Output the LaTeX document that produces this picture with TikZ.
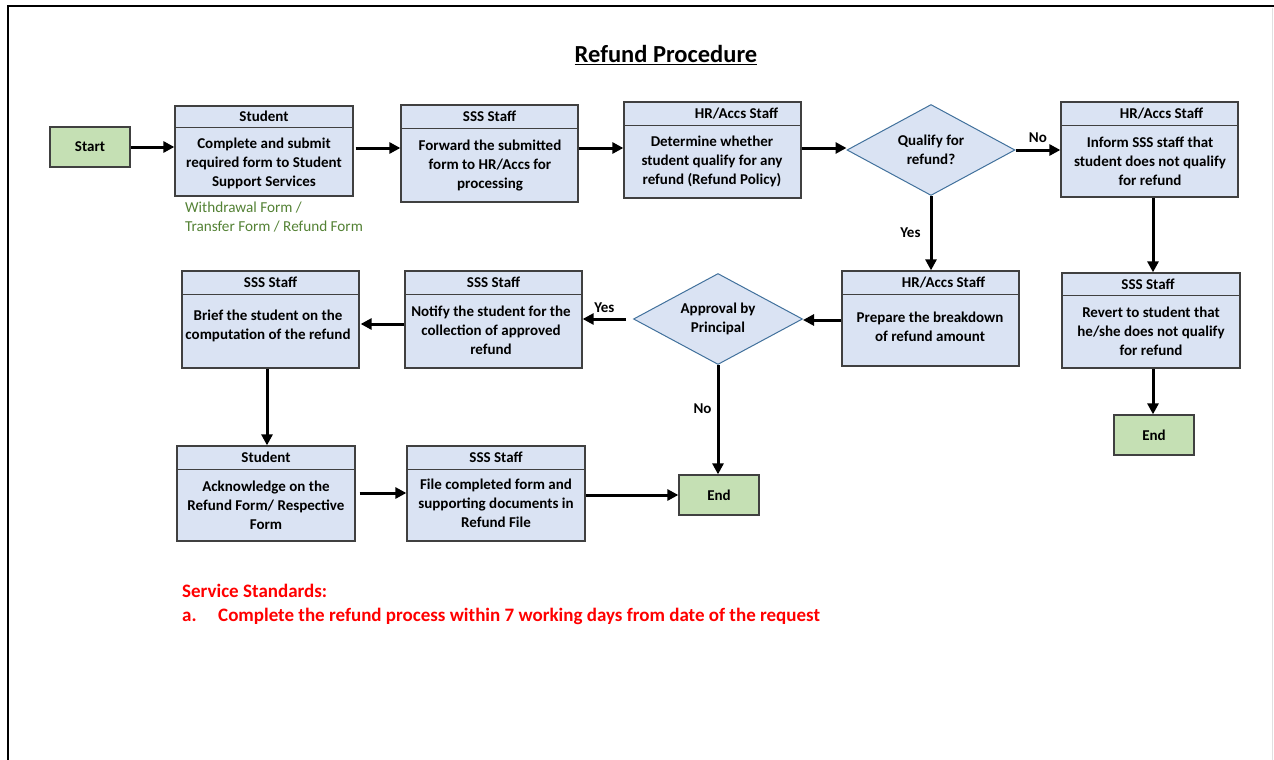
\documentclass[tikz,border=0pt]{standalone}
\usepackage{fontspec}
\setmainfont{Carlito}
\usetikzlibrary{arrows.meta,shapes.geometric,calc}

\definecolor{boxfill}{HTML}{DAE3F3}
\definecolor{boxline}{HTML}{404040}
\definecolor{termfill}{HTML}{C5E0B4}
\definecolor{diamline}{HTML}{41719C}
\definecolor{notegreen}{HTML}{548235}
\definecolor{stdred}{HTML}{FF0000}

\tikzset{
  x=1pt, y=-1pt,
  stepbox/.style={draw=boxline, line width=1.3pt, fill=boxfill, inner sep=0pt},
  termbox/.style={draw=boxline, line width=1.3pt, fill=termfill, inner sep=0pt,
    font=\bfseries\fontsize{15}{18}\selectfont},
  decision/.style={diamond, aspect=1.85, draw=diamline, line width=1pt, fill=boxfill, inner sep=0pt,
    align=center, font=\bfseries\fontsize{15}{19}\selectfont},
  headtext/.style={font=\bfseries\fontsize{15}{18}\selectfont, inner sep=0pt},
  bodytext/.style={font=\bfseries\fontsize{15}{19}\selectfont, align=center, inner sep=0pt, anchor=north},
  flow/.style={line width=3pt, -{Triangle[length=11pt,width=11pt]}},
  flowlabel/.style={font=\bfseries\fontsize{15}{18}\selectfont, inner sep=0pt},
  stdtextstyle/.style={font=\bfseries\fontsize{19}{24}\selectfont, text=stdred, anchor=base west, inner sep=0pt},
}

% process box with a header strip:
% #1 name, #2 x1, #3 y1, #4 x2, #5 y2, #6 header line y, #7 header xshift, #8 header
\newcommand{\procbox}[8]{%
  \node[stepbox, minimum width={#4-#2}, minimum height={#5-#3}] (#1) at ({(#2+#4)/2},{(#3+#5)/2}) {};
  \draw[boxline, line width=1pt] (#1.west |- 0,#6) -- (#1.east |- 0,#6);
  \node[headtext] (#1-head) at ({(#2+#4)/2+#7},{(#3+#6)/2}) {#8};
}

\begin{document}
\begin{tikzpicture}
\useasboundingbox (0,0) rectangle (1274,760);
\fill[white] (0,0) rectangle (1274,760);

% page frame
\draw[line width=2pt] (8,760) -- (8,6) -- (1274,6);
\draw[line width=0.6pt, black!12] (1272,8) -- (1272,760);

% title
\node[font=\bfseries\fontsize{24.5}{28}\selectfont, inner sep=0pt] (title) at (666,55) {\underline{Refund Procedure}};

% ---- process boxes ----
\procbox{student}{175}{106}{353}{196}{127}{0}{Student}
\node[bodytext] (student-body) at (264,138) {Complete and submit\\required form to Student\\Support Services};

\procbox{forward}{401}{105}{578}{202}{128}{0}{SSS Staff}
\node[bodytext] (forward-body) at (490,140) {Forward the submitted\\form to HR/Accs for\\processing};

\procbox{determine}{624}{102}{801}{198}{125}{24}{HR/Accs Staff}
\node[bodytext] (determine-body) at (712,136) {Determine whether\\student qualify for any\\refund (Refund Policy)};

\procbox{inform}{1061}{102}{1238}{197}{125}{12}{HR/Accs Staff}
\node[bodytext] (inform-body) at (1150,137) {Inform SSS staff that\\student does not qualify\\for refund};

\procbox{prepare}{842}{271}{1019}{366}{294}{13}{HR/Accs Staff}
\node[bodytext] (prepare-body) at (930,312) {Prepare the breakdown\\of refund amount};

\procbox{revert}{1062}{273}{1240}{368}{295}{-3}{SSS Staff}
\node[bodytext] (revert-body) at (1151,307) {Revert to student that\\he/she does not qualify\\for refund};

\procbox{notify}{405}{271}{582}{368}{294}{0}{SSS Staff}
\node[bodytext] (notify-body) at (491,306) {Notify the student for the\\collection of approved\\refund};

\procbox{brief}{182}{271}{359}{368}{294}{0}{SSS Staff}
\node[bodytext] (brief-body) at (268,310) {Brief the student on the\\computation of the refund};

\procbox{ack}{177}{446}{355}{541}{469}{0}{Student}
\node[bodytext] (ack-body) at (266,481) {Acknowledge on the\\Refund Form/ Respective\\Form};

\procbox{filing}{407}{446}{585}{541}{469}{0}{SSS Staff}
\node[bodytext] (filing-body) at (496,479) {File completed form and\\supporting documents in\\Refund File};

% terminals
\node[termbox, minimum width=80, minimum height=40] (start) at (90,147) {Start};
\node[termbox, minimum width=80, minimum height=40] (endright) at (1154,435) {End};
\node[termbox, minimum width=80, minimum height=40] (endmain) at (719,495) {End};

% decisions
\node[decision, minimum width=168, minimum height=91] (qualify) at (931,150) {Qualify for\\refund?};
\node[decision, minimum width=169, minimum height=91] (approval) at (718,319) {Approval by\\Principal};

% note under the first step
\node[font=\fontsize{15.2}{19}\selectfont, text=notegreen, align=left, anchor=north west, inner sep=0pt]
  (forms) at (185,202) {Withdrawal Form /\\Transfer Form / Refund Form};

% service standards
\node[stdtextstyle] (stdhead) at (182,597) {Service Standards:};
\node[stdtextstyle] (stditem) at (182,621) {a.};
\node[stdtextstyle] (stdtext) at (218,621) {Complete the refund process within 7 working days from date of the request};

% ---- connectors ----
\draw[flow] (start.east) -- (student.west |- start.east);
\draw[flow] ($(student.east |- 0,148)+(2,0)$) -- (forward.west |- 0,148);
\draw[flow] (forward.east |- 0,148) -- (determine.west |- 0,148);
\draw[flow] (determine.east |- 0,148) -- (qualify.west |- 0,148);
\draw[flow] (qualify.east) -- (inform.west |- qualify.east)
  node[flowlabel, midway, above=6pt] (nolabel1) {No};
\draw[flow] (qualify.south) -- (qualify.south |- prepare.north)
  node[flowlabel, midway, left=9pt] (yeslabel1) {Yes};
\draw[flow] (inform.south -| 1153,0) -- (revert.north -| 1153,0);
\draw[flow] (revert.south -| 1153,0) -- (endright.north -| 1153,0);
\draw[flow] (prepare.west |- 0,320) -- (approval.east |- 0,320);
\draw[flow] ($(approval.west)+(-7,0)$) -- (notify.east |- approval.west)
  node[flowlabel, midway, above=5pt] (yeslabel2) {Yes};
\draw[flow] (notify.west |- 0,324) -- ($(brief.east |- 0,324)+(1,0)$);
\draw[flow] (brief.south -| 267,0) -- (ack.north -| 267,0);
\draw[flow] ($(ack.east |- 0,493)+(4,0)$) -- (filing.west |- 0,493);
\draw[flow] (filing.east |- 0,495) -- (endmain.west |- 0,495);
\draw[flow] (approval.south) -- (approval.south |- endmain.north)
  node[flowlabel, pos=0.4, left=5pt] (nolabel2) {No};
\end{tikzpicture}
\end{document}
